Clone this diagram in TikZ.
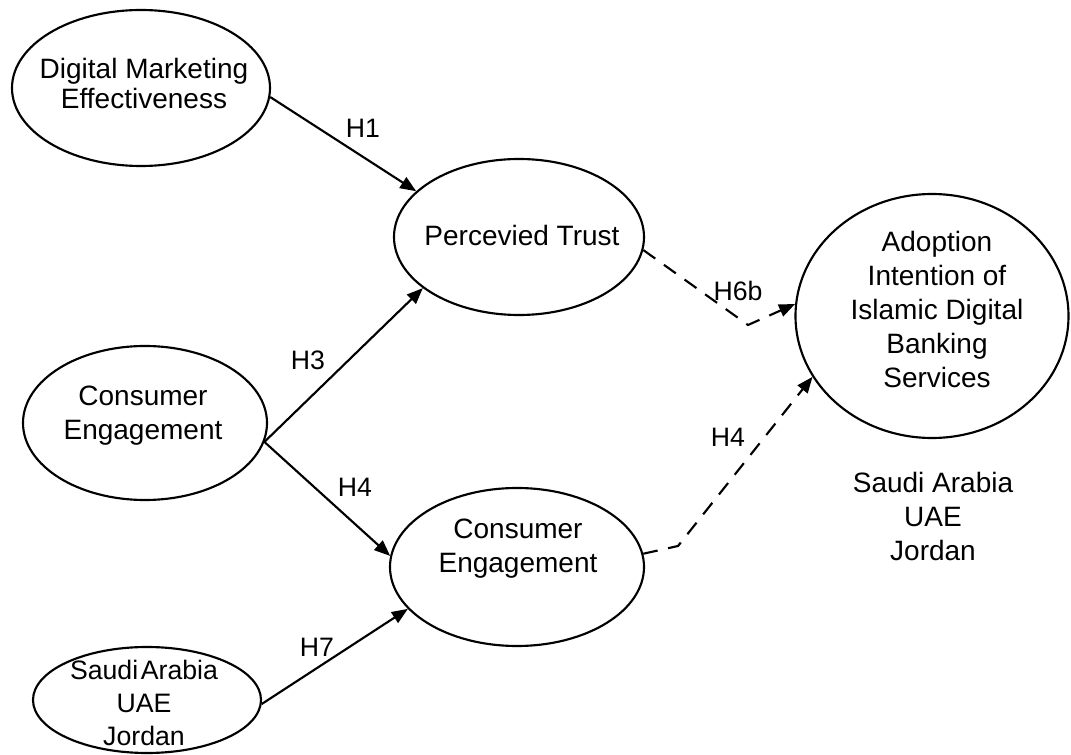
\documentclass[tikz,border=0pt]{standalone}
\usepackage{fontspec}
\setmainfont{Liberation Sans}
\usetikzlibrary{arrows.meta,shapes.geometric}
\begin{document}
\begin{tikzpicture}[x=0.75pt,y=-0.75pt,
  construct/.style 2 args={draw, ellipse, line width=1.6pt, inner sep=0pt,
    minimum width=#1*0.75pt, minimum height=#2*0.75pt},
  caption/.style={align=center, inner sep=0pt, font=\fontsize{21}{25.5}\selectfont},
  hyp/.style={inner sep=0pt, font=\fontsize{20}{24}\selectfont},
  relation/.style={line width=1.6pt, -{Triangle[length=12pt,width=9.5pt]}},
  mediated/.style={relation, dash pattern=on 11pt off 8pt}]
\useasboundingbox[fill=white] (0,0) rectangle (1071,755);

% constructs
\node[construct={258}{156}] (dm)  at (141,88)  {};
\node[construct={244}{154}] (ce1) at (145,423) {};
\node[construct={228}{106}] (sa1) at (147,700) {};
\node[construct={250}{156}] (pt)  at (519,237) {};
\node[construct={254}{158}] (ce2) at (517,567) {};
\node[construct={273}{244}] (ad)  at (932,316) {};

% construct texts
\node[caption, font=\fontsize{21}{22.5}\selectfont] (dmt) at (144,83) {Digital Marketing\\Effectiveness};
\node[caption] (ce1t) at (143,416) {Consumer\\Engagement};
\node[caption, font=\fontsize{20}{24.5}\selectfont] (sa1t) at (144,703) {Saudi\hspace{0.1em}Arabia\\UAE\\Jordan};
\node[caption] (ptt)  at (522,235) {Percevied Trust};
\node[caption] (ce2t) at (518,549) {Consumer\\Engagement};
\node[caption] (adt)  at (937,309) {Adoption\\Intention of\\Islamic Digital\\Banking\\Services};
\node[caption] (ctx)  at (933,516) {Saudi Arabia\\UAE\\Jordan};

% direct paths
\draw[relation] (dm.-4)  -- (pt.156);
\draw[relation] (ce1.-9) -- (pt.208);
\draw[relation] (ce1.-9) -- (ce2.175);
\draw[relation] (sa1.-2) -- (ce2.201);

% mediated paths
\coordinate (b1) at (748,325);
\coordinate (b2) at (678,546);
\draw[mediated] (pt.-6)  -- (b1) -- (ad.175);
\draw[mediated] (ce2.6)  -- (b2) -- (ad.207);

% hypothesis labels
\node[hyp] (h1)  at (363,128) {H1};
\node[hyp] (h3)  at (308,360) {H3};
\node[hyp] (h4)  at (355,487) {H4};
\node[hyp] (h7)  at (317,647) {H7};
\node[hyp] (h6b) at (738,291) {H6b};
\node[hyp] (h4b) at (728,437) {H4};
\end{tikzpicture}
\end{document}
